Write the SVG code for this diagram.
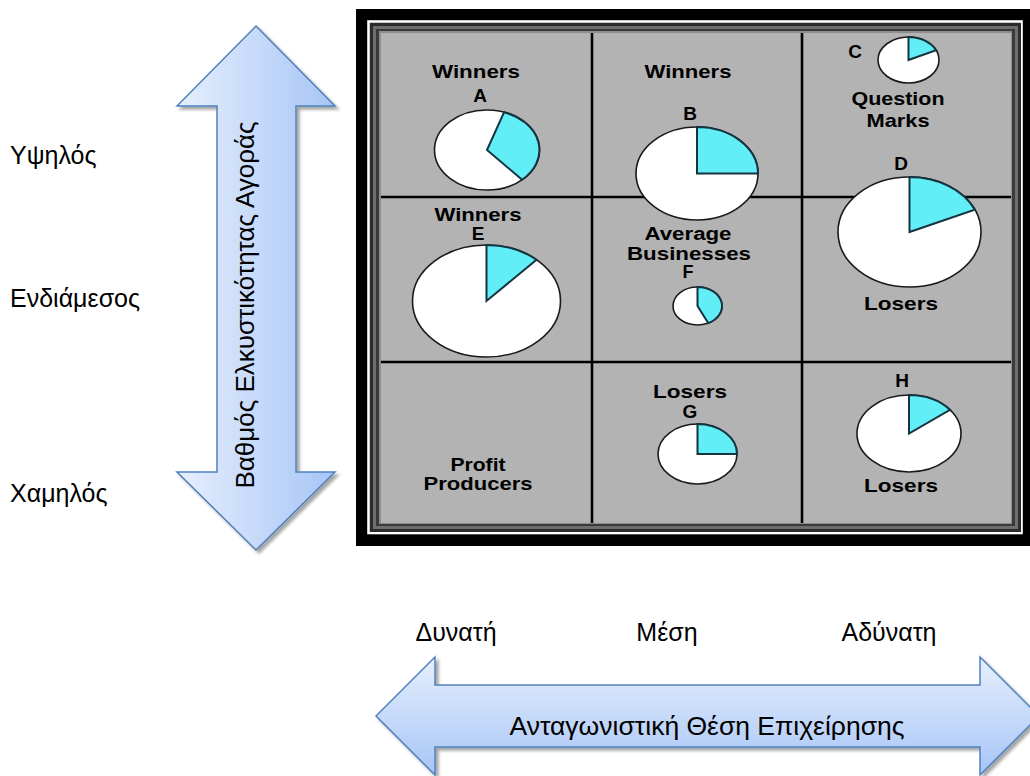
<svg xmlns="http://www.w3.org/2000/svg" width="1030" height="776" viewBox="0 0 1030 776">
  <defs>
    <linearGradient id="gradV" x1="0" y1="0" x2="1" y2="0">
      <stop offset="0" stop-color="#e6effd"/>
      <stop offset="1" stop-color="#a7c5f6"/>
    </linearGradient>
    <linearGradient id="gradH" x1="0" y1="0" x2="0" y2="1">
      <stop offset="0" stop-color="#e6effd"/>
      <stop offset="1" stop-color="#a7c5f6"/>
    </linearGradient>
    <filter id="shadow" x="-10%" y="-10%" width="130%" height="130%">
      <feDropShadow dx="3" dy="3" stdDeviation="1.5" flood-color="#000" flood-opacity="0.35"/>
    </filter>
    <style>
      .lbl { font-family: "Liberation Sans", Arial, sans-serif; font-size: 25px; fill: #000; }
      .cell { font-family: "Liberation Sans", Arial, sans-serif; font-size: 19px; font-weight: bold; fill: #000; text-anchor: middle; }
      .tight { font-size: 18px; }
      .pie { fill: #fff; stroke: #1a1a1a; stroke-width: 1.6; }
      .wedge { fill: #62eef6; stroke: #16343f; stroke-width: 2; stroke-linejoin: miter; }
      .grid { stroke: #000; stroke-width: 2.6; }
      .arrow { stroke: #4f81bd; stroke-width: 1.5; filter: url(#shadow); }
    </style>
  </defs>

  <rect width="1030" height="776" fill="#fff"/>

  <!-- row scale labels -->
  <g id="row-labels">
    <text class="lbl" x="10" y="164">Υψηλός</text>
    <text class="lbl" x="10" y="307">Ενδιάμεσος</text>
    <text class="lbl" x="10" y="502">Χαμηλός</text>
  </g>

  <!-- column scale labels -->
  <g id="column-labels">
    <text class="lbl" x="456" y="641" text-anchor="middle">Δυνατή</text>
    <text class="lbl" x="667" y="641" text-anchor="middle">Μέση</text>
    <text class="lbl" x="889" y="641" text-anchor="middle">Αδύνατη</text>
  </g>

  <!-- vertical double arrow: market attractiveness -->
  <g id="axis-attractiveness">
    <path class="arrow" fill="url(#gradV)" d="M256,26 L335,106 L296,106 L296,472 L335,472 L256,550 L177,472 L217,472 L217,106 L177,106 Z"/>
    <text class="lbl" style="font-size:26px" text-anchor="middle" transform="translate(254,305) rotate(-90)">Βαθμός Ελκυστικότητας Αγοράς</text>
  </g>

  <!-- horizontal double arrow: competitive position -->
  <g id="axis-position">
    <path class="arrow" fill="url(#gradH)" d="M376,716 L435,657 L435,685 L980,685 L980,657 L1039,716 L980,775 L980,747 L435,747 L435,775 Z"/>
    <text class="lbl" style="font-size:26.5px" x="707" y="735" text-anchor="middle">Ανταγωνιστική Θέση Επιχείρησης</text>
  </g>

  <!-- matrix frame with bevel -->
  <g id="matrix-frame">
    <rect x="356" y="9" width="674" height="537" fill="#000"/>
    <rect x="368.5" y="21.5" width="653" height="511.5" fill="none" stroke="#fff" stroke-width="2.6"/>
    <rect x="370" y="23" width="651" height="509" fill="#2c2c2c"/>
    <rect x="373" y="26" width="645" height="503" fill="#6e6e6e"/>
    <rect x="376" y="29" width="639" height="497" fill="#3a3a3a"/>
    <rect x="379" y="31" width="633" height="493" fill="#8e8e8e"/>
    <rect x="381" y="33" width="630" height="490" fill="#b3b3b3"/>
  </g>

  <!-- cell dividers -->
  <g id="grid">
    <line class="grid" x1="592" y1="33" x2="592" y2="523"/>
    <line class="grid" x1="802" y1="33" x2="802" y2="523"/>
    <line class="grid" x1="381" y1="197" x2="1011" y2="197"/>
    <line class="grid" x1="381" y1="362" x2="1011" y2="362"/>
  </g>

  <!-- business units -->
  <g id="unit-A">
    <text class="cell" x="476" y="78" textLength="88" lengthAdjust="spacingAndGlyphs">Winners</text>
    <text class="cell" x="480" y="102">A</text>
    <ellipse class="pie" cx="487" cy="150" rx="52.5" ry="40"/>
    <path class="wedge" d="M487,150 L504.1,112.2 A52.5,40 0 0 1 522.1,179.7 Z"/>
  </g>

  <g id="unit-B">
    <text class="cell" x="688" y="78" textLength="87" lengthAdjust="spacingAndGlyphs">Winners</text>
    <text class="cell" x="690" y="120">B</text>
    <ellipse class="pie" cx="697" cy="173.5" rx="61" ry="46.5"/>
    <path class="wedge" d="M697,173.5 L697,127 A61,46.5 0 0 1 758,173.5 Z"/>
  </g>

  <g id="unit-C">
    <text class="cell" x="855" y="58">C</text>
    <ellipse class="pie" cx="908.5" cy="60" rx="30.5" ry="23"/>
    <path class="wedge" d="M908.5,60 L908.5,37 A30.5,23 0 0 1 936.1,50.3 Z"/>
    <text class="cell" x="898" y="105" textLength="93" lengthAdjust="spacingAndGlyphs">Question</text>
    <text class="cell" x="898" y="127" textLength="63" lengthAdjust="spacingAndGlyphs">Marks</text>
  </g>

  <g id="unit-D">
    <text class="cell" x="901" y="170">D</text>
    <ellipse class="pie" cx="909.5" cy="232" rx="71.5" ry="55"/>
    <path class="wedge" d="M909.5,232 L909.5,177 A71.5,55 0 0 1 974.8,209.6 Z"/>
    <text class="cell" x="901" y="310" textLength="74" lengthAdjust="spacingAndGlyphs">Losers</text>
  </g>

  <g id="unit-E">
    <text class="cell" x="478" y="221" textLength="87" lengthAdjust="spacingAndGlyphs">Winners</text>
    <text class="cell" x="478" y="240">E</text>
    <ellipse class="pie" cx="486.5" cy="301" rx="74" ry="56"/>
    <path class="wedge" d="M486.5,301 L486.5,245 A74,56 0 0 1 536.5,259.7 Z"/>
  </g>

  <g id="unit-F">
    <text class="cell tight" x="688" y="240" textLength="87" lengthAdjust="spacingAndGlyphs">Average</text>
    <text class="cell tight" x="689" y="260" textLength="124" lengthAdjust="spacingAndGlyphs">Businesses</text>
    <text class="cell tight" x="688" y="278">F</text>
    <ellipse class="pie" cx="697.5" cy="306" rx="24.5" ry="19"/>
    <path class="wedge" d="M697.5,306 L697.5,287 A24.5,19 0 0 1 708.2,323.1 Z"/>
  </g>

  <g id="unit-profit">
    <text class="cell" x="478" y="471" textLength="55" lengthAdjust="spacingAndGlyphs">Profit</text>
    <text class="cell" x="478" y="490" textLength="109" lengthAdjust="spacingAndGlyphs">Producers</text>
  </g>

  <g id="unit-G">
    <text class="cell" x="690" y="398" textLength="74" lengthAdjust="spacingAndGlyphs">Losers</text>
    <text class="cell" x="690" y="418">G</text>
    <ellipse class="pie" cx="697.5" cy="454" rx="39.5" ry="30"/>
    <path class="wedge" d="M697.5,454 L697.5,424 A39.5,30 0 0 1 737,454 Z"/>
  </g>

  <g id="unit-H">
    <text class="cell" x="902" y="387">H</text>
    <ellipse class="pie" cx="909" cy="433.5" rx="52" ry="38.5"/>
    <path class="wedge" d="M909,433.5 L909,395 A52,38.5 0 0 1 950,409.8 Z"/>
    <text class="cell" x="901" y="492" textLength="74" lengthAdjust="spacingAndGlyphs">Losers</text>
  </g>

  <g id="connectors"/>
</svg>
